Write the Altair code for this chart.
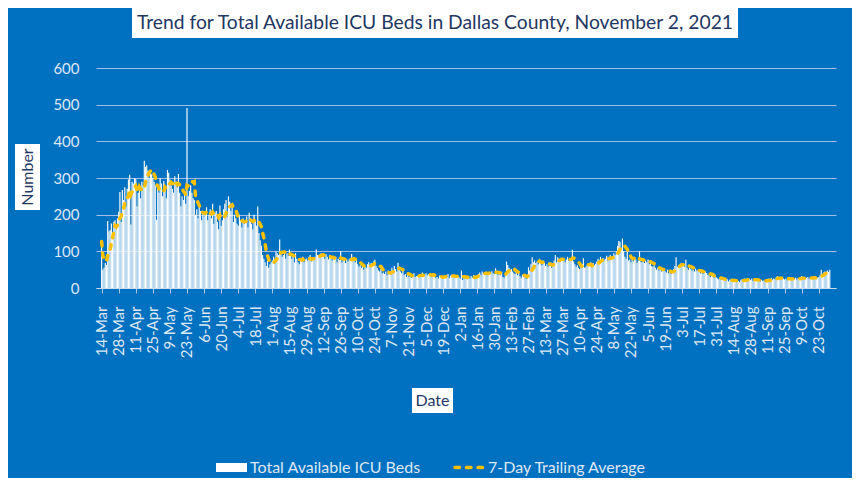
import altair as alt
import pandas as pd

# Daily total available ICU beds, Dallas County, 14-Mar-2020 .. 1-Nov-2021
beds_spring_2020 = [
    127, 50, 55, 68, 63, 183, 155,
    158, 176, 150, 181, 185, 160, 190,
    208, 262, 180, 267, 240, 275, 222,
    271, 296, 309, 173, 290, 285, 300,
    297, 223, 260, 270, 245, 290, 280,
    347, 330, 335, 320, 300, 318, 310,
    300, 290, 280, 186, 270, 260, 300,
    285, 250, 292, 270, 245, 322, 314,
    295, 280, 270, 260, 305, 290, 275,
    311, 260, 223, 250, 240, 265, 230,
    491, 250, 265, 280, 260, 245, 240,
    200, 215, 190, 230, 210, 185, 205,
    195, 210, 220, 185, 200, 215, 190,
    230, 175, 205, 210, 180, 160, 225,
    170, 185, 215, 230, 240, 195, 250,
    235, 210, 230, 180, 200, 190, 175,
]
beds_summer_fall_2020 = [
    170, 200, 185, 165, 190, 175, 180,
    195, 165, 205, 190, 175, 160, 200,
    185, 170, 222, 150, 130, 115, 90,
    80, 70, 60, 75, 55, 65, 70,
    75, 85, 80, 100, 95, 90, 132,
    95, 85, 90, 100, 80, 95, 88,
    105, 90, 80, 85, 70, 95, 80,
    70, 65, 80, 75, 85, 70, 78,
    80, 75, 85, 90, 72, 80, 78,
    85, 105, 90, 88, 82, 95, 85,
    88, 80, 92, 85, 78, 90, 82,
    75, 82, 78, 85, 70, 80, 76,
    101, 70, 75, 80, 68, 78, 72,
    80, 75, 93, 78, 82, 70, 76,
    65, 58, 62, 55, 60, 50, 58,
    55, 65, 70, 62, 68, 60, 72,
    77, 60, 55, 48, 45, 52, 40,
]
beds_winter_2020_21 = [
    42, 38, 45, 35, 48, 40, 36,
    55, 48, 60, 52, 45, 69, 50,
    45, 40, 48, 35, 38, 30, 42,
    30, 35, 28, 32, 40, 30, 33,
    34, 30, 38, 36, 42, 32, 35,
    40, 35, 38, 33, 36, 30, 39,
    32, 28, 30, 26, 34, 29, 31,
    28, 33, 35, 30, 38, 27, 34,
    36, 30, 34, 28, 32, 29, 30,
    26, 48, 22, 30, 25, 28, 24,
    30, 26, 33, 28, 35, 27, 32,
    34, 38, 42, 36, 45, 40, 38,
    44, 36, 40, 42, 38, 46, 40,
    38, 54, 42, 36, 40, 35, 44,
    30, 28, 35, 72, 63, 55, 50,
    52, 45, 40, 38, 48, 35, 42,
    32, 28, 36, 30, 34, 25, 31,
    57, 48, 65, 84, 70, 75, 68,
]
beds_spring_2021 = [
    72, 65, 80, 70, 62, 75, 68,
    60, 65, 58, 70, 62, 55, 68,
    75, 90, 70, 84, 78, 72, 80,
    76, 82, 70, 78, 85, 74, 80,
    80, 104, 72, 65, 58, 62, 55,
    52, 60, 65, 81, 55, 58, 62,
    65, 60, 70, 58, 68, 62, 66,
    72, 80, 75, 85, 78, 82, 76,
    80, 88, 75, 82, 90, 78, 85,
    95, 90, 100, 115, 128, 126, 110,
    135, 100, 85, 80, 104, 75, 78,
    70, 80, 72, 85, 78, 68, 74,
    100, 72, 70, 76, 68, 74, 70,
    78, 65, 72, 60, 58, 62, 55,
    50, 55, 48, 52, 45, 53, 49,
    46, 42, 50, 40, 44, 38, 45,
    52, 60, 84, 58, 62, 55, 65,
    60, 62, 58, 77, 55, 50, 56,
]
beds_summer_fall_2021 = [
    52, 48, 50, 45, 53, 47, 49,
    44, 40, 46, 38, 42, 45, 41,
    36, 34, 30, 38, 32, 28, 33,
    29, 26, 24, 27, 22, 25, 23,
    22, 20, 24, 18, 23, 21, 19,
    20, 18, 22, 17, 19, 16, 21,
    24, 22, 26, 20, 23, 21, 25,
    22, 26, 20, 24, 19, 23, 21,
    20, 18, 22, 19, 21, 17, 20,
    22, 25, 20, 27, 23, 26, 24,
    28, 33, 25, 27, 24, 29, 26,
    23, 26, 21, 25, 28, 22, 27,
    26, 24, 28, 23, 27, 25, 24,
    33, 26, 29, 24, 28, 30, 25,
    28, 26, 30, 27, 29, 25, 28,
    30, 35, 50, 38, 42, 45, 40,
    48, 44, 50,
]

tick_labels = [
    "14-Mar", "28-Mar", "11-Apr", "25-Apr", "9-May", "23-May", "6-Jun", "20-Jun",
    "4-Jul", "18-Jul", "1-Aug", "15-Aug", "29-Aug", "12-Sep", "26-Sep", "10-Oct",
    "24-Oct", "7-Nov", "21-Nov", "5-Dec", "19-Dec", "2-Jan", "16-Jan", "30-Jan",
    "13-Feb", "27-Feb", "13-Mar", "27-Mar", "10-Apr", "24-Apr", "8-May", "22-May",
    "5-Jun", "19-Jun", "3-Jul", "17-Jul", "31-Jul", "14-Aug", "28-Aug", "11-Sep",
    "25-Sep", "9-Oct", "23-Oct",
]
y_ticks = [0, 100, 200, 300, 400, 500, 600]

title_text = "Trend for Total Available ICU Beds in Dallas County, November 2, 2021"
series_bar = "Total Available ICU Beds"
series_line = "7-Day Trailing Average"

values = (beds_spring_2020 + beds_summer_fall_2020 + beds_winter_2020_21
          + beds_spring_2021 + beds_summer_fall_2021)
df = pd.DataFrame({"day": list(range(len(values))), "beds": values})
one = pd.DataFrame({"k": [0]})

BG = "#0070C0"
LABEL = "#DCE8F5"
GRID = "#9FC0E4"
YELLOW = "#FFC000"
NAVY = "#1F3864"
FONT = "Lato"

label_expr = "[" + ",".join("'" + t + "'" for t in tick_labels) + "][round(datum.value / 14)]"

x_axis = alt.Axis(
    values=[14 * i for i in range(len(tick_labels))],
    labelExpr=label_expr,
    grid=False,
    domain=True,
    domainColor="#C9DBEF",
    ticks=True,
    tickColor="#A9C6E6",
    tickSize=5,
    labelAngle=270,
    labelAlign="right",
    labelBaseline="middle",
    labelPadding=13,
    labelFont=FONT,
    labelFontSize=15,
    labelColor=LABEL,
    labelFlush=False,
    labelOverlap=False,
    labelBound=False,
)
x_scale = alt.Scale(domain=[-0.5, len(values)], nice=False, zero=False)
y_axis = alt.Axis(
    values=y_ticks,
    grid=True,
    gridColor=GRID,
    gridWidth=1,
    domain=False,
    ticks=False,
    labelFont=FONT,
    labelFontSize=15,
    labelColor=LABEL,
    labelPadding=17,
    labelOverlap=False,
    labelFlush=False,
)
y_scale = alt.Scale(domain=[0, 600], nice=False)

bars = alt.Chart(df).mark_bar(color="white", size=1.15).encode(
    x=alt.X("day:Q", title=None, scale=x_scale, axis=x_axis),
    y=alt.Y("beds:Q", title=None, scale=y_scale, axis=y_axis),
)

line = alt.Chart(df).transform_window(
    avg="mean(beds)", frame=[-6, 0], sort=[alt.SortField("day")]
).mark_line(color=YELLOW, strokeWidth=3.5, strokeDash=[4.5, 7], strokeCap="round").encode(
    x=alt.X("day:Q", title=None, scale=x_scale, axis=x_axis),
    y=alt.Y("avg:Q", title=None, scale=y_scale, axis=y_axis),
)


def box(x1, x2, y1, y2):
    return alt.Chart(one).mark_rect(color="white").encode(
        x=alt.value(x1), x2=alt.value(x2), y=alt.value(y1), y2=alt.value(y2)
    )


def text(t, x, y, size, color, align="center", angle=0):
    return alt.Chart(one).mark_text(
        text=t, font=FONT, fontSize=size, color=color, align=align,
        baseline="middle", angle=angle,
    ).encode(x=alt.value(x), y=alt.value(y))


title_box = box(36, 642, -61, -30)
title_lbl = text(title_text, 339, -45, 19.3, NAVY)
ytitle_box = box(-81, -56, 76, 142)
ytitle_lbl = text("Number", -68.5, 109, 16, NAVY, angle=270)
xtitle_box = box(316, 357, 320, 345)
xtitle_lbl = text("Date", 336.5, 333, 16, NAVY)

leg_swatch = box(120, 151, 395, 404)
leg_text1 = text(series_bar, 154, 399.5, 16, LABEL, align="left")
leg_dash = alt.Chart(one).mark_rule(
    color=YELLOW, strokeWidth=3.5, strokeDash=[4.5, 7], strokeCap="round"
).encode(x=alt.value(359), x2=alt.value(389), y=alt.value(399.5))
leg_text2 = text(series_line, 392, 399.5, 16, LABEL, align="left")

chart = alt.layer(
    bars, line,
    title_box, title_lbl, ytitle_box, ytitle_lbl, xtitle_box, xtitle_lbl,
    leg_swatch, leg_text1, leg_dash, leg_text2,
).properties(
    width=740,
    height=220,
    background=BG,
    padding={"left": 88, "top": 60, "right": 16, "bottom": 190},
    autosize=alt.AutoSizeParams(type="none"),
).configure_view(stroke=None)

chart.save("out.html", embed_options={"renderer": "svg", "actions": False})
